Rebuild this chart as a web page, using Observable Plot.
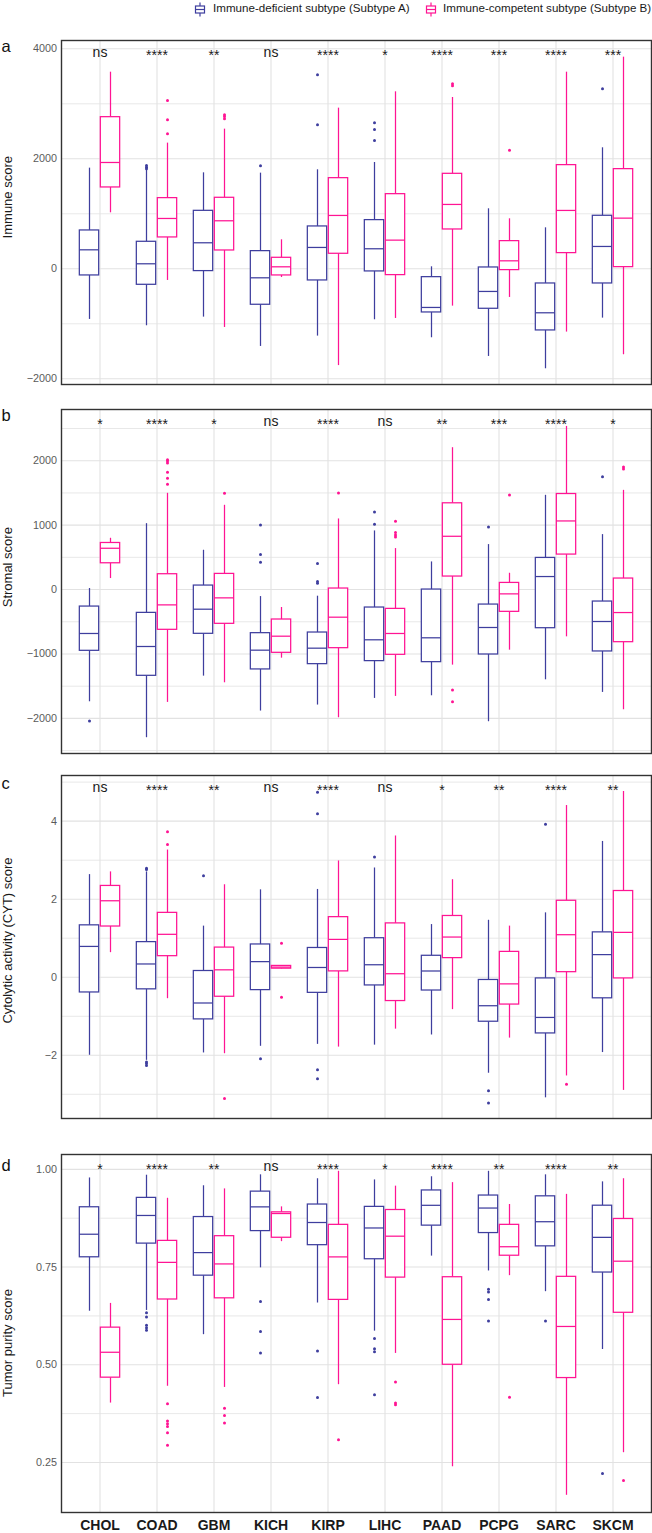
<!DOCTYPE html>
<html>
<head>
<meta charset="utf-8">
<script src="https://cdn.jsdelivr.net/npm/d3@7"></script>
<script src="https://cdn.jsdelivr.net/npm/@observablehq/plot@0.6"></script>
<style>
  html, body { margin: 0; padding: 0; background: #fff; }
  body { font-family: "Liberation Sans", Arial, Helvetica, sans-serif; }
  #wrap { position: relative; width: 652px; height: 1533px; overflow: hidden; }
  .panel { position: absolute; left: 0; }
  .leg { position: absolute; top: 1px; font-size: 11.6px; line-height: 14px; color: #1a1a1a; white-space: nowrap; }
  .icon { position: absolute; top: 2px; }
  .xbold text { font-weight: bold; }
</style>
</head>
<body>
<div id="wrap">
  <svg class="icon" style="left:194px" width="12" height="15" viewBox="0 0 12 15">
    <line x1="6" y1="0.5" x2="6" y2="14.5" stroke="#3E3E9E" stroke-width="1.2"/>
    <rect x="1.5" y="4" width="9" height="7" fill="#fff" stroke="#3E3E9E" stroke-width="1.2"/>
    <line x1="1.5" y1="7.5" x2="10.5" y2="7.5" stroke="#3E3E9E" stroke-width="1.2"/>
  </svg>
  <div class="leg" style="left:213px">Immune-deficient subtype (Subtype A)</div>
  <svg class="icon" style="left:425px" width="12" height="15" viewBox="0 0 12 15">
    <line x1="6" y1="0.5" x2="6" y2="14.5" stroke="#FF1493" stroke-width="1.2"/>
    <rect x="1.5" y="4" width="9" height="7" fill="#fff" stroke="#FF1493" stroke-width="1.2"/>
    <line x1="1.5" y1="7.5" x2="10.5" y2="7.5" stroke="#FF1493" stroke-width="1.2"/>
  </svg>
  <div class="leg" style="left:443px">Immune-competent subtype (Subtype B)</div>
</div>
<script>
// ---------------- DATA ----------------
const categories = ["CHOL","COAD","GBM","KICH","KIRP","LIHC","PAAD","PCPG","SARC","SKCM"];
const subtypes = ["Immune-deficient subtype (Subtype A)", "Immune-competent subtype (Subtype B)"];
const subtypeColors = ["#3E3E9E", "#FF1493"];

// box stats per category: [lower whisker, Q1, median, Q3, upper whisker]
const immuneA = [[-921,-121,345,697,1830],[-1036,-291,91,491,1788],[-879,-42,473,1054,1745],[-1412,-654,-164,321,1739],[-1224,-212,388,770,1800],[-927,-48,364,885,1933],[-1254,-794,-703,-152,36],[-1594,-727,-412,24,1091],[-1818,-1121,-800,-267,745],[-897,-267,406,964,2200]];
const immuneB = [[1018,1479,1933,2757,3575],[-212,570,915,1285,2285],[-1067,333,873,1291,2539],[-158,-121,36,200,527],[-1760,273,970,1648,2921],[-903,-115,521,1357,3218],[-679,715,1170,1727,3115],[-521,-24,145,503,909],[-1151,285,1061,1885,3575],[-1563,30,921,1812,3848]];
const immuneAOut = [[],[1879,1848,1818],[],[1873],[3527,2618],[2654,2533,2333],[],[],[],[3272]];
const immuneBOut = [[],[3060,2709,2454],[2800,2770,2727],[],[],[],[3363,3327],[2157],[],[]];
const immuneSig = ["ns","****","**","ns","****","*","****","***","****","***"];

const stromalA = [[-1742,-951,-682,-264,16],[-2300,-1339,-884,-362,1023],[-1344,-687,-305,62,610],[-1886,-1240,-941,-677,-109],[-1793,-1158,-910,-667,-103],[-1690,-1111,-780,-279,910],[-1649,-1127,-749,0,429],[-2052,-1008,-589,-233,698],[-1401,-600,202,491,1463],[-1597,-961,-496,-186,853]];
const stromalB = [[171,408,641,723,796],[-1752,-625,-238,238,1494],[-1447,-532,-129,243,1308],[-1065,-982,-724,-465,-279],[-1990,-910,-429,16,1096],[-1659,-1013,-682,-300,636],[-1173,202,827,1339,2202],[-941,-346,-67,103,253],[-734,543,1065,1483,2532],[-1866,-817,-357,171,1540]];
const stromalAOut = [[-2041],[],[],[1003,543,424],[403,124,98],[1204,1013],[],[972],[],[1752]];
const stromalBOut = [[],[2016,1995,1964,1819,1726,1633],[1494],[],[1499],[1059,884,848,817],[-1561,-1742],[1468],[],[1902,1871]];
const stromalSig = ["*","****","*","ns","****","ns","**","***","****","*"];

const cytA = [[-2.0,-0.39,0.79,1.33,2.63],[-2.13,-0.31,0.34,0.90,2.70],[-1.94,-1.08,-0.66,0.16,1.31],[-1.77,-0.33,0.40,0.84,2.24],[-1.72,-0.40,0.25,0.75,2.25],[-1.74,-0.21,0.32,1.00,2.80],[-1.48,-0.34,0.16,0.55,1.35],[-2.46,-1.14,-0.73,-0.07,1.46],[-3.09,-1.44,-1.03,-0.03,1.65],[-1.93,-0.54,0.58,1.15,3.48]];
const cytB = [[0.63,1.30,1.96,2.34,2.70],[-0.55,0.54,1.10,1.65,3.26],[-1.96,-0.50,0.19,0.76,2.37],[0.21,0.22,0.26,0.29,0.30],[-1.79,0.15,0.97,1.54,2.98],[-1.33,-0.61,0.09,1.38,3.62],[-0.83,0.49,1.03,1.57,2.50],[-1.56,-0.70,-0.17,0.65,1.31],[-2.53,0.13,1.09,1.96,4.40],[-2.90,-0.03,1.15,2.21,4.76]];
const cytAOut = [[],[2.76,2.79,-2.17,-2.21,-2.26],[2.60],[-2.09],[4.74,4.19,-2.37,-2.60],[3.08],[],[-2.91,-3.22],[3.92],[]];
const cytBOut = [[],[3.73,3.40],[-3.11],[0.87,-0.51],[],[],[],[],[-2.74],[]];
const cytSig = ["ns","****","**","ns","****","ns","*","**","****","**"];

const purityA = [[0.637,0.775,0.834,0.903,0.978],[0.639,0.810,0.882,0.927,0.985],[0.577,0.728,0.787,0.878,0.958],[0.748,0.842,0.904,0.943,0.986],[0.658,0.806,0.864,0.910,0.976],[0.586,0.770,0.850,0.904,0.973],[0.778,0.856,0.908,0.946,0.981],[0.740,0.837,0.901,0.933,0.995],[0.687,0.803,0.866,0.931,0.986],[0.539,0.736,0.826,0.907,0.968]];
const purityB = [[0.402,0.467,0.532,0.595,0.657],[0.445,0.667,0.762,0.817,0.926],[0.442,0.670,0.758,0.829,0.950],[0.815,0.825,0.887,0.890,0.904],[0.449,0.666,0.776,0.858,0.995],[0.529,0.723,0.829,0.896,0.957],[0.239,0.500,0.616,0.724,0.966],[0.728,0.779,0.802,0.858,0.910],[0.166,0.466,0.598,0.725,0.936],[0.275,0.633,0.765,0.873,0.976]];
const purityAOut = [[],[0.633,0.622,0.601,0.595,0.588],[],[0.662,0.585,0.530],[0.535,0.416],[0.567,0.541,0.533,0.423],[],[0.693,0.686,0.667,0.612],[0.612],[0.222]];
const purityBOut = [[],[0.400,0.356,0.349,0.342,0.326,0.294],[0.389,0.370,0.351],[],[0.308],[0.456,0.402,0.398],[],[0.417],[],[0.204]];
const puritySig = ["*","****","**","ns","****","*","****","**","****","**"];

const immuneTicks = [-2000, 0, 2000, 4000];
const immuneMinor = [-1000, 1000, 3000];
const stromalTicks = [-2000, -1000, 0, 1000, 2000];
const stromalMinor = [-2500, -1500, -500, 500, 1500, 2500];
const cytTicks = [-2, 0, 2, 4];
const cytMinor = [-3, -1, 1, 3, 5];
const purityTicks = [0.25, 0.50, 0.75, 1.00];
const purityMinor = [0.375, 0.625, 0.875];

// ---------------- LAYOUT ----------------
const W = 652, ML = 61, MR = 1, MT = 10;
const step = (W - ML - MR) / 10.2;
const half = step / 2;
const boxW = 20.2, gap = 0.4;
const insets = [
  {insetLeft: half - gap - boxW, insetRight: half + gap},
  {insetLeft: half + gap, insetRight: half - gap - boxW}
];
const offs = [-(gap + boxW / 2), gap + boxW / 2];
const SW = 1.25;
const GRID = "#e2e2e2";
const minusFmt = d => (d < 0 ? "\u2212" + Math.abs(d) : String(d));

function panel(cfg) {
  const rows = [], outs = [];
  subtypes.forEach((s, k) => {
    categories.forEach((c, i) => {
      const st = cfg.stats[k][i];
      rows.push({cat: c, k, lo: st[0], q1: st[1], med: st[2], q3: st[3], hi: st[4]});
      cfg.outs[k][i].forEach(v => outs.push({cat: c, k, v}));
    });
  });
  const sigRows = categories.map((c, i) => ({cat: c, label: cfg.sig[i]}));
  const MB = cfg.xAxis ? 21 : 10;
  const fh = cfg.bottom - cfg.top;
  const marks = [
    Plot.ruleY(cfg.minor, {stroke: GRID, strokeWidth: 0.8}),
    Plot.ruleY(cfg.ticks, {stroke: GRID, strokeWidth: 1.1}),
    Plot.ruleX(categories, {x: d => d, stroke: GRID, strokeWidth: 1.1}),
  ];
  [0, 1].forEach(k => {
    const d = rows.filter(r => r.k === k);
    const o = outs.filter(r => r.k === k);
    const col = subtypeColors[k];
    marks.push(
      Plot.ruleX(d, {x: "cat", y1: "lo", y2: "q1", dx: offs[k], stroke: col, strokeWidth: SW}),
      Plot.ruleX(d, {x: "cat", y1: "q3", y2: "hi", dx: offs[k], stroke: col, strokeWidth: SW}),
      Plot.barY(d, {x: "cat", y1: "q1", y2: "q3", fill: "white", stroke: col, strokeWidth: SW, ...insets[k]}),
      Plot.tickY(d, {x: "cat", y: "med", stroke: col, strokeWidth: SW, ...insets[k]}),
      Plot.dot(o, {x: "cat", y: "v", dx: offs[k], r: 1.5, fill: col, stroke: null})
    );
  });
  marks.push(
    Plot.text(sigRows.filter(r => r.label === "ns"), {x: "cat", text: "label", frameAnchor: "top", lineAnchor: "bottom", dy: 16.5, fontSize: 14, fill: "#1a1a1a"}),
    Plot.text(sigRows.filter(r => r.label !== "ns"), {x: "cat", text: "label", frameAnchor: "top", lineAnchor: "bottom", dy: 19.5, fontSize: 14, fill: "#1a1a1a"}),
    Plot.text([cfg.letter], {text: d => d, frameAnchor: "top-left", textAnchor: "start", lineAnchor: "bottom", dx: -60, dy: cfg.letterDy, fontSize: 16.5, fill: "#111"}),
    Plot.text([cfg.label], {text: d => d, frameAnchor: "left", textAnchor: "middle", lineAnchor: "middle", rotate: -90, dx: -53.5, dy: cfg.labelDy, fontSize: 13, fill: "#1a1a1a"}),
    Plot.axisY(cfg.ticks, {tickSize: 0, tickPadding: 4.5, fontSize: 10.8, color: "#5a5a5a", tickFormat: cfg.fmt, label: null}),
    Plot.frame({stroke: "#333", strokeWidth: 1.4})
  );
  if (cfg.xAxis) {
    marks.push(Plot.axisX({tickSize: 0, tickPadding: 8, fontSize: 14, fontWeight: "bold", color: "#1a1a1a", label: null, className: "xbold"}));
  }
  const chart = Plot.plot({
    width: W,
    height: fh + MT + MB,
    marginLeft: ML, marginRight: MR, marginTop: MT, marginBottom: MB,
    style: {fontFamily: "'Liberation Sans', Arial, Helvetica, sans-serif", background: "transparent", overflow: "visible"},
    x: {type: "band", domain: categories, paddingInner: 0, paddingOuter: 0.1, axis: cfg.xAxis ? undefined : null},
    y: {domain: cfg.domain, axis: null},
    marks
  });
  const holder = document.createElement("div");
  holder.className = "panel";
  holder.style.top = (cfg.top - MT) + "px";
  holder.appendChild(chart);
  document.getElementById("wrap").appendChild(holder);
}

panel({stats: [immuneA, immuneB], outs: [immuneAOut, immuneBOut], sig: immuneSig,
  top: 40, bottom: 384, domain: [-2104, 4151], ticks: immuneTicks, minor: immuneMinor, fmt: minusFmt,
  letter: "a", letterDy: 11.7, label: "Immune score", labelDy: -15.3});
panel({stats: [stromalA, stromalB], outs: [stromalAOut, stromalBOut], sig: stromalSig,
  top: 409, bottom: 753, domain: [-2545, 2795], ticks: stromalTicks, minor: stromalMinor, fmt: minusFmt,
  letter: "b", letterDy: 11, label: "Stromal score", labelDy: -14.3});
panel({stats: [cytA, cytB], outs: [cytAOut, cytBOut], sig: cytSig,
  top: 775, bottom: 1118, domain: [-3.62, 5.17], ticks: cytTicks, minor: cytMinor, fmt: minusFmt,
  letter: "c", letterDy: 13.3, label: "Cytolytic activity (CYT) score", labelDy: -6.5});
panel({stats: [purityA, purityB], outs: [purityAOut, purityBOut], sig: puritySig,
  top: 1154, bottom: 1512, domain: [0.122, 1.038], ticks: purityTicks, minor: purityMinor, fmt: d3.format(".2f"),
  letter: "d", letterDy: 16, label: "Tumor purity score", labelDy: 9.5, xAxis: true});
</script>
</body>
</html>
